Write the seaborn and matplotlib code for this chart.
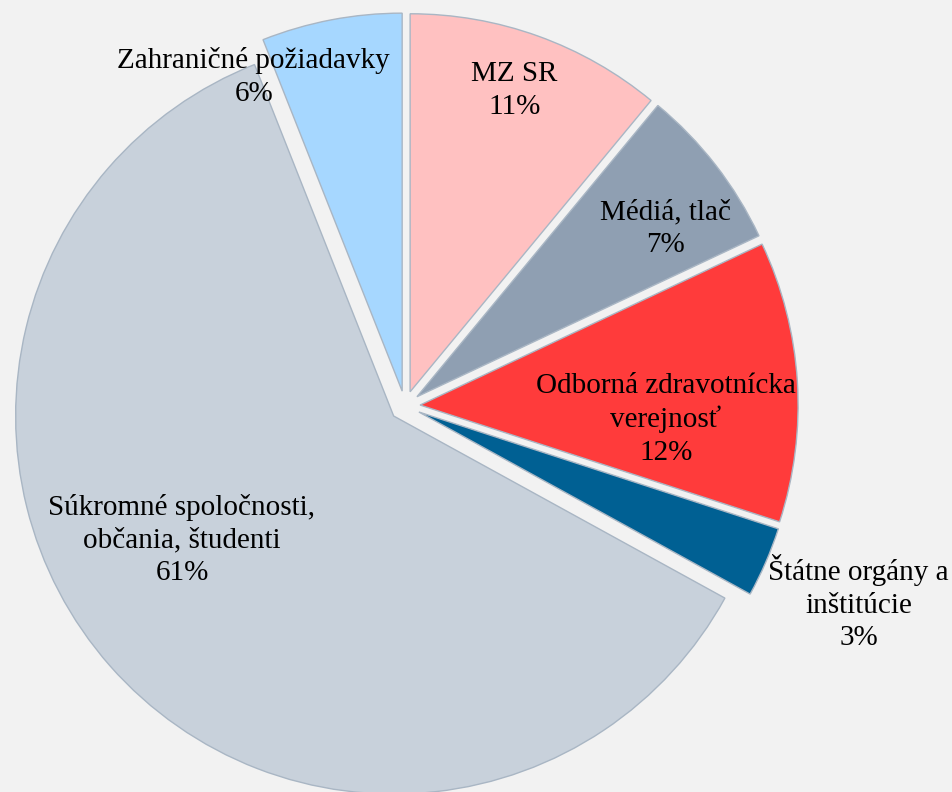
import numpy as np
import pandas as pd
import seaborn as sns
import matplotlib.pyplot as plt

# data (share of requests, %)
categories = ['MZ SR', 'Médiá, tlač', 'Odborná zdravotnícka\nverejnosť',
              'Štátne orgány a\ninštitúcie', 'Súkromné spoločnosti,\nobčania, študenti',
              'Zahraničné požiadavky']
shares = [11, 7, 12, 3, 61, 6]

colors = ['#FFC1C1', '#8F9FB2', '#FF3B3B', '#006093', '#C8D1DB', '#A6D7FF']
# label placement: (x, y) relative to pie centre, in radius units
label_pos = [(0.29, 0.835), (0.69, 0.47), (0.69, -0.035), (1.20, -0.52),
             (-0.59, -0.355), (-0.40, 0.87)]

df = pd.DataFrame({'category': categories, 'share': shares, 'color': colors})

sns.set_theme(style='white')
plt.rcParams['font.family'] = ['Liberation Serif', 'DejaVu Serif']

fig = plt.figure(figsize=(9.53, 7.92), dpi=100, facecolor='#F2F2F2')
R = 378  # pie radius in px
cx, cy = 405, 792 - 406
lim = 1.1
w = 2 * lim * R
ax = fig.add_axes([(cx - lim * R) / 953, (cy - lim * R) / 792, w / 953, w / 792])
ax.set_facecolor('#F2F2F2')

wedges, _ = ax.pie(df['share'], colors=df['color'], startangle=90, counterclock=False,
                   explode=[0.04] * len(df),
                   wedgeprops=dict(edgecolor='#A9B6C4', linewidth=1.0))
ax.set_xlim(-lim, lim)
ax.set_ylim(-lim, lim)
ax.set_aspect('equal')
ax.axis('off')

for (x, y), cat, s in zip(label_pos, df['category'], df['share']):
    ax.text(x, y, f'{cat}\n{s}%', ha='center', va='center', fontsize=21,
            color='black', linespacing=1.33)

fig.savefig('out.png', dpi=100, facecolor=fig.get_facecolor())
